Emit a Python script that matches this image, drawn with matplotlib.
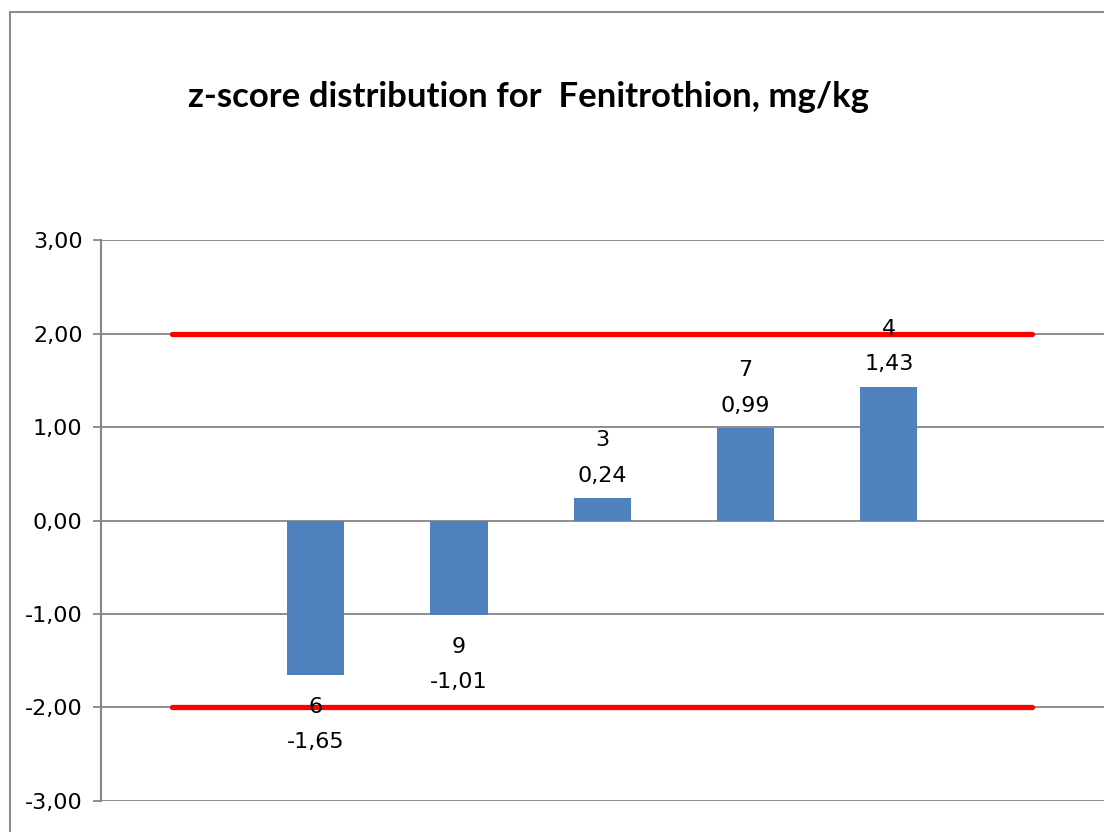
import matplotlib
matplotlib.use("Agg")
import matplotlib.pyplot as plt
from matplotlib.patches import Rectangle
import numpy as np

# data
slots = [0, 1, 2, 3, 4, 5, 6]
lab_ids = ["", "6", "9", "3", "7", "4", ""]
z_scores = [np.nan, -1.65, -1.01, 0.24, 0.99, 1.43, np.nan]
upper_limit = [2, 2, 2, 2, 2, 2, 2]
lower_limit = [-2, -2, -2, -2, -2, -2, -2]
yticks = [-3, -2, -1, 0, 1, 2, 3]
ytick_labels = ["-3,00", "-2,00", "-1,00", "0,00", "1,00", "2,00", "3,00"]

W, H = 1104, 832
fig = plt.figure(figsize=(W / 100, H / 100), dpi=100)

# chart border (cropped at right and bottom in the original)
fig.patches.append(Rectangle((10 / W, -0.1), 1.2, (H - 12) / H + 0.1,
                             transform=fig.transFigure, fill=False,
                             edgecolor="#8c8c8c", linewidth=1.5))

ax = fig.add_axes([100.7 / W, 31.2 / H, 1003 / W, 560.5 / H])

ax.bar(slots, z_scores, width=0.4, color="#4f81bd", zorder=2)
ax.plot(slots, upper_limit, color="#ff0000", lw=3.8, solid_capstyle="round", zorder=3)
ax.plot(slots, lower_limit, color="#ff0000", lw=3.8, solid_capstyle="round", zorder=3)

for x, v, lab in zip(slots, z_scores, lab_ids):
    if np.isnan(v):
        continue
    txt = lab + "\n" + ("%.2f" % v).replace(".", ",")
    if v < 0:
        ax.annotate(txt, (x, v), xytext=(0, -16), textcoords="offset points",
                    ha="center", va="top", fontsize=16, linespacing=1.95, zorder=4)
    else:
        ax.annotate(txt, (x, v), xytext=(0, 9), textcoords="offset points",
                    ha="center", va="bottom", fontsize=16, linespacing=1.95, zorder=4)

ax.set_xlim(-0.5, 6.5)
ax.set_ylim(-3, 3)
ax.set_yticks(yticks)
ax.set_yticklabels(ytick_labels, fontsize=16)
ax.set_xticks([])
ax.yaxis.grid(True, color="#868686", linewidth=1.3, zorder=0)
ax.set_axisbelow(True)
for s in ["top", "right", "bottom"]:
    ax.spines[s].set_visible(False)
ax.spines["left"].set_color("#868686")
ax.spines["left"].set_linewidth(1.5)
ax.tick_params(axis="y", length=6, width=1.3, color="#868686", pad=7)

fig.text(529 / W, 1 - 97 / H, "z-score distribution for  Fenitrothion, mg/kg",
         ha="center", va="center", fontsize=25, fontweight="bold", family="Lato")

fig.savefig("out.png", dpi=100)
